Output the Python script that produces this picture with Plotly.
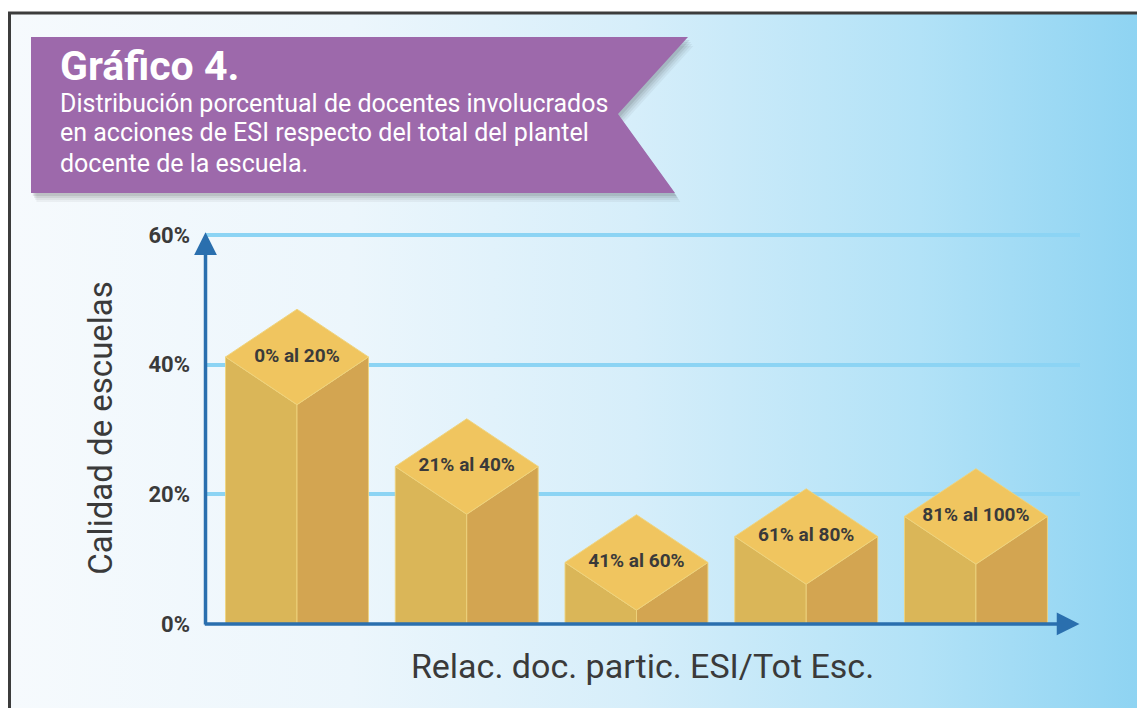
import base64
import plotly.graph_objects as go

# ---------------- data ----------------
categories = ["0% al 20%", "21% al 40%", "41% al 60%", "61% al 80%", "81% al 100%"]
values = [41.2, 24.3, 9.5, 13.5, 16.6]
y_ticks = [0, 20, 40, 60]
y_tick_labels = ["0%", "20%", "40%", "60%"]
title_main = "Gráfico 4."
title_lines = [
    "Distribución porcentual de docentes involucrados",
    "en acciones de ESI respecto del total del plantel",
    "docente de la escuela.",
]
x_title = "Relac. doc. partic. ESI/Tot Esc."
y_title = "Calidad de escuelas"

# ---------------- layout geometry ----------------
OFF = 8                      # page body margin of the html page
VW, VH = 1145, 708           # viewport
W, H = VW - OFF, VH - OFF    # figure size
ML, MR, MT, MB = 205 - OFF, 65, 232 - OFF, 84
PW, PH = W - ML - MR, H - MT - MB
X_RANGE = [-0.542, 4.613]
Y_RANGE = [0, 60.47]
BAR_HALF = 0.421      # half width of a prism (x units)
TOP_DEPTH = 7.36      # half height of the top rhombus (y units)


def px2x(px):
    """viewport pixel x -> paper x"""
    return (px - OFF - ML) / PW


def py2y(py):
    """viewport pixel y -> paper y"""
    return (H - MB - (py - OFF)) / PH


LEFT_C = "#dab658"
RIGHT_C = "#d3a551"
TOP_C = "#f0c55f"
EDGE_C = "rgba(238,212,125,0.9)"
AXIS_C = "#2a6fae"
GRID_C = "#8cd4f4"
TEXT_C = "#3a3a3a"

fig = go.Figure()

xs = list(range(len(categories)))
for i, (cat, v) in enumerate(zip(categories, values)):
    c = xs[i]
    w = BAR_HALF
    d = TOP_DEPTH
    low = max(v - d, 0)
    faces = [
        ([c - w, c - w, c, c, c - w], [0, v, low, 0, 0], LEFT_C),
        ([c, c, c + w, c + w, c], [0, low, v, 0, 0], RIGHT_C),
        ([c - w, c, c + w, c, c - w], [v, v + d, v, low, v], TOP_C),
    ]
    for fx, fy, col in faces:
        fig.add_trace(go.Scatter(
            x=fx, y=fy, mode="lines", fill="toself", fillcolor=col,
            line=dict(color=EDGE_C, width=1), hoverinfo="skip", showlegend=False,
        ))

fig.add_trace(go.Scatter(
    x=xs, y=values, mode="text", text=categories, textposition="middle center",
    textfont=dict(family="Roboto", size=19, color=TEXT_C, weight="bold"),
    hoverinfo="skip", showlegend=False, cliponaxis=False,
))

# gradient background as an svg data uri
svg = (
    '<svg xmlns="http://www.w3.org/2000/svg" width="1135" height="694" preserveAspectRatio="none">'
    '<defs><linearGradient id="g" x1="0" y1="0" x2="1" y2="0">'
    '<stop offset="0" stop-color="#f6fafd"/>'
    '<stop offset="0.3" stop-color="#ecf6fc"/>'
    '<stop offset="0.55" stop-color="#d6eefa"/>'
    '<stop offset="0.8" stop-color="#b2e2f7"/>'
    '<stop offset="1" stop-color="#8dd3f2"/>'
    '</linearGradient></defs>'
    '<rect x="0" y="0" width="1135" height="694" fill="url(#g)"/></svg>'
)
src = "data:image/svg+xml;base64," + base64.b64encode(svg.encode()).decode()

shapes = []
# frame lines
shapes.append(dict(type="line", xref="paper", yref="paper", x0=px2x(8), x1=px2x(VW + 2),
                   y0=py2y(13), y1=py2y(13), line=dict(color="#3c3c3c", width=3), layer="above"))
shapes.append(dict(type="line", xref="paper", yref="paper", x0=px2x(9.5), x1=px2x(9.5),
                   y0=py2y(12), y1=py2y(VH + 2), line=dict(color="#3c3c3c", width=3), layer="above"))


def banner_path(dx, dy):
    pts = [(31, 37), (688, 37), (618, 114), (675, 193), (31, 193)]
    s = ""
    for k, (px, py) in enumerate(pts):
        s += ("M" if k == 0 else "L") + f"{px2x(px + dx)},{py2y(py + dy)} "
    return s + "Z"


for off, a in [(9, 0.05), (7, 0.06), (5, 0.08), (3, 0.10)]:
    shapes.append(dict(type="path", xref="paper", yref="paper", path=banner_path(off * 0.6, off),
                       fillcolor=f"rgba(40,40,40,{a})", line=dict(width=0), layer="above"))
shapes.append(dict(type="path", xref="paper", yref="paper", path=banner_path(0, 0),
                   fillcolor="#9d69ab", line=dict(width=0), layer="above"))

annotations = []
annotations.append(dict(xref="paper", yref="paper", x=px2x(58), y=py2y(66), xanchor="left",
                        yanchor="middle", text=title_main, showarrow=False,
                        font=dict(family="Roboto", size=41, color="white", weight="bold")))
for k, line in enumerate(title_lines):
    annotations.append(dict(xref="paper", yref="paper", x=px2x(58), y=py2y(103 + 30 * k),
                            xanchor="left", yanchor="middle", text=line, showarrow=False,
                            font=dict(family="Roboto", size=25, color="white")))

# axis arrows
annotations.append(dict(xref="x", yref="y", axref="x", ayref="y",
                        x=X_RANGE[0] + 0.003, y=Y_RANGE[1] - 0.02,
                        ax=X_RANGE[0] + 0.003, ay=-0.3, text="", showarrow=True, arrowhead=2,
                        arrowsize=1.3, arrowwidth=3.5, arrowcolor=AXIS_C, standoff=0))
annotations.append(dict(xref="x", yref="y", axref="x", ayref="y",
                        x=X_RANGE[1] - 0.003, y=0.01,
                        ax=X_RANGE[0] - 0.01, ay=0.01, text="", showarrow=True, arrowhead=2,
                        arrowsize=1.3, arrowwidth=3.5, arrowcolor=AXIS_C, standoff=0))

fig.update_layout(
    width=W, height=H,
    margin=dict(l=ML, r=MR, t=MT, b=MB, autoexpand=False),
    paper_bgcolor="white", plot_bgcolor="rgba(0,0,0,0)",
    images=[dict(source=src, xref="paper", yref="paper", x=px2x(10), y=py2y(14),
                 sizex=(VW + 2 - 10) / PW, sizey=(VH + 2 - 14) / PH, xanchor="left", yanchor="top",
                 sizing="stretch", layer="below")],
    shapes=shapes, annotations=annotations,
    xaxis=dict(range=X_RANGE, showgrid=False, zeroline=False, showline=False,
               showticklabels=False, ticks="", fixedrange=True,
               title=dict(text=x_title, standoff=30,
                          font=dict(family="Roboto", size=34, color=TEXT_C))),
    yaxis=dict(range=Y_RANGE, tickvals=y_ticks, ticktext=y_tick_labels, showgrid=True,
               gridcolor=GRID_C, gridwidth=4, zeroline=False, showline=False, ticks="",
               ticklabelstandoff=14,
               tickfont=dict(family="Roboto", size=22, color=TEXT_C, weight="bold"),
               title=dict(text=y_title, standoff=25,
                          font=dict(family="Roboto", size=33, color=TEXT_C))),
)

fig.write_html("out.html")
